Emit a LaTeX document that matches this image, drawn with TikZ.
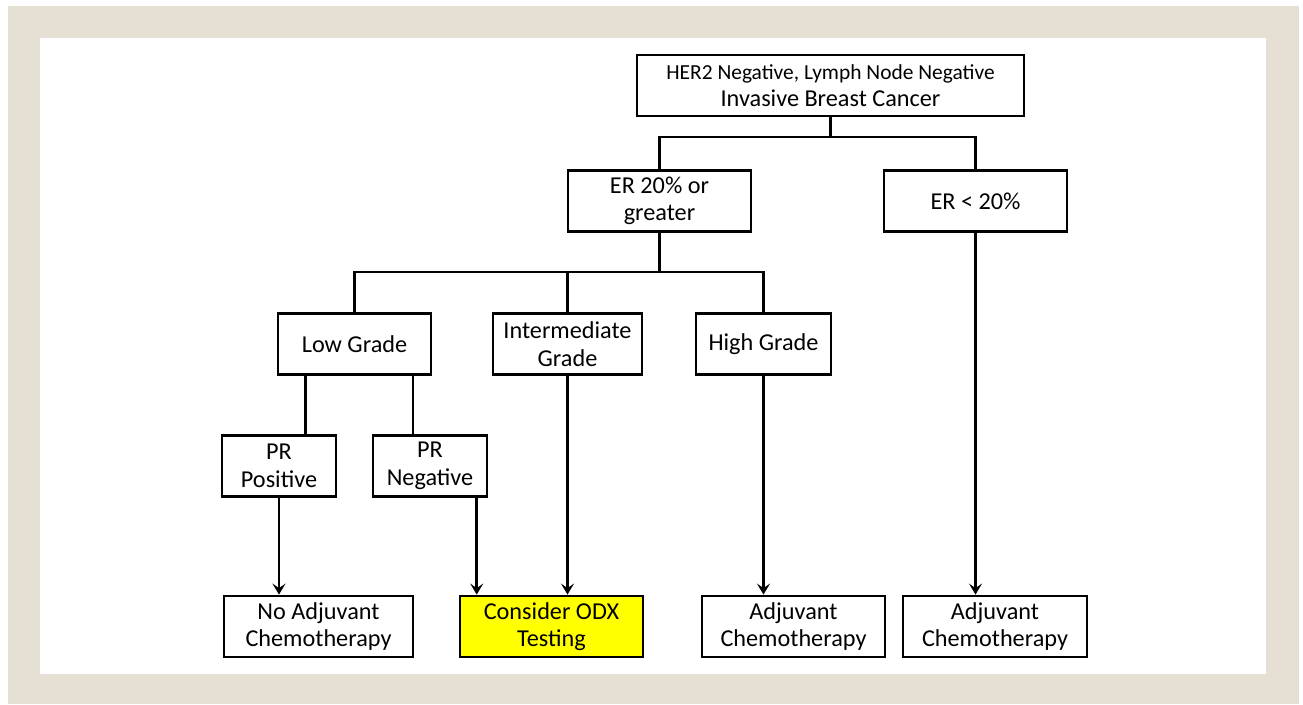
\documentclass[tikz,border=0pt]{standalone}
\usepackage{fontspec}
\setmainfont{Carlito}
\usepackage{xcolor}
\usepackage{tikz}
\usetikzlibrary{arrows.meta,calc}

\definecolor{frame}{RGB}{229,223,212}
\definecolor{odxyellow}{RGB}{255,255,0}

\begin{document}
\begin{tikzpicture}[x=0.02cm, y=0.02cm,
            box/.style={draw, rectangle, line width=1.6pt, minimum height=1.23cm, inner sep=0pt,
                 align=center, font=\fontsize{13.8}{15.6}\selectfont},
            link/.style={line width=1.6pt},
            arrow/.style={line width=1.6pt, -{Stealth[length=2.2mm, width=2.6mm, inset=0.9mm]}}
            ]

            % Frame
            \fill[white] (0,0) rectangle (1303,704);
            \fill[frame] (8,0) rectangle (1299,698);
            \fill[white] (40,30) rectangle (1266,666);

            % Nodes with manual coordinates
            \node[box, minimum width=7.74cm, minimum height=1.22cm] (her2) at (830.5,618.5)
                 {{\fontsize{12.2}{16}\selectfont HER2 Negative, Lymph Node Negative}\\Invasive Breast Cancer};
            \node[box, minimum width=3.66cm] (erhigh) at (659.5,503) {ER 20\% or\\greater};
            \node[box, minimum width=3.66cm] (erlow) at (975.5,503) {ER < 20\%};
            \node[box, minimum width=3.06cm] (lowgr) at (354.5,360) {Low Grade};
            \node[box, minimum width=2.98cm] (intgr) at (567.5,360) {Intermediate\\Grade};
            \node[box, minimum width=2.70cm] (highgr) at (763.5,360) {High Grade};
            \node[box, minimum width=2.28cm] (prpos) at (279,238) {PR\\Positive};
            \node[box, minimum width=2.28cm] (prneg) at (430,238) {PR\\Negative};
            \node[box, minimum width=3.78cm, minimum height=1.22cm] (noadj) at (318.5,77.5) {No Adjuvant\\Chemotherapy};
            \node[box, minimum width=3.66cm, minimum height=1.22cm, fill=odxyellow] (odx) at (551.5,77.5) {Consider ODX\\Testing};
            \node[box, minimum width=3.66cm, minimum height=1.22cm] (adjhigh) at (793.5,77.5) {Adjuvant\\Chemotherapy};
            \node[box, minimum width=3.68cm, minimum height=1.22cm] (adjlow) at (995,77.5) {Adjuvant\\Chemotherapy};

            % Branch points
            \coordinate (split1) at (830.5,567);
            \coordinate (split2) at (659.5,432);
            \coordinate (lowpos) at ($(lowgr.south west)!0.183!(lowgr.south east)$);
            \coordinate (lowneg) at ($(lowgr.south west)!0.876!(lowgr.south east)$);
            \coordinate (negout) at ($(prneg.south west)!0.9!(prneg.south east)$);

            % Lines
            \draw[link] (her2.south) -- (split1);
            \draw[link] (erhigh.north) |- (split1) -| (erlow.north);
            \draw[link] (erhigh.south) -- (split2);
            \draw[link] (lowgr.north) |- (split2) -| (highgr.north);
            \draw[link] (intgr.north) -- (intgr.north |- split2);
            \draw[link] (lowpos) -- (lowpos |- prpos.north);
            \draw[link] (lowneg) -- (lowneg |- prneg.north);

            % Arrows
            \draw[arrow] (prpos.south) -- (prpos.south |- noadj.north);
            \draw[arrow] (negout) -- (negout |- odx.north);
            \draw[arrow] (intgr.south) -- (intgr.south |- odx.north);
            \draw[arrow] (highgr.south) -- (highgr.south |- adjhigh.north);
            \draw[arrow] (erlow.south) -- (erlow.south |- adjlow.north);
        \end{tikzpicture}
\end{document}
